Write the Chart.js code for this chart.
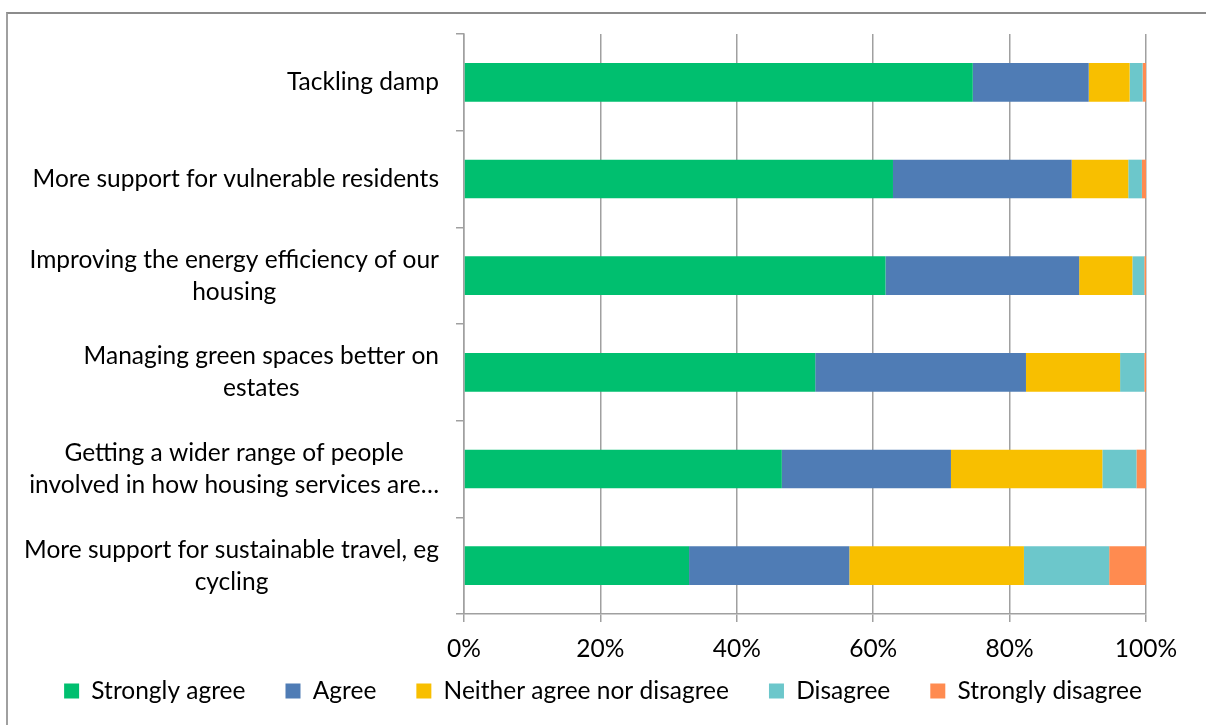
<!DOCTYPE html>
<html>
<head>
<meta charset="utf-8">
<script src="https://cdn.jsdelivr.net/npm/chart.js@4.4.1/dist/chart.umd.min.js"></script>
<style>
  html, body { margin: 0; padding: 0; background: #fff; overflow: hidden; }
  #wrap { position: relative; width: 1206px; height: 725px; }
  #frame { position: absolute; left: 6px; top: 12px; width: 1300px; height: 800px;
           border-top: 2px solid #8c8c8c; border-left: 2px solid #a0a0a0; pointer-events: none; }
</style>
</head>
<body>
<div id="wrap">
  <canvas id="chart" width="1206" height="725"></canvas>
  <div id="frame"></div>
</div>
<script>
// categories (label lines, top to bottom)
const categories = [
    ["Tackling damp"],
    ["More support for vulnerable residents"],
    ["Improving the energy efficiency of our", "housing"],
    ["Managing green spaces better on", "estates"],
    ["Getting a wider range of people", "involved in how housing services are\u2026"],
    ["More support for sustainable travel, eg", "cycling"]
];

// percentages
const stronglyAgree    = [74.6, 62.9, 61.8, 51.5, 46.6, 33.0];
const agree            = [17.0, 26.2, 28.4, 30.9, 24.8, 23.5];
const neither          = [6.0, 8.3, 7.8, 13.8, 22.2, 25.6];
const disagree         = [1.9, 2.0, 1.75, 3.55, 5.0, 12.5];
const stronglyDisagree = [0.5, 0.6, 0.25, 0.25, 1.4, 5.4];

const seriesNames = ["Strongly agree", "Agree", "Neither agree nor disagree", "Disagree", "Strongly disagree"];
const xTicks = [0, 20, 40, 60, 80, 100];

const FONT = "Lato, 'Open Sans', sans-serif";
const FSIZE = 24.5;
const LEGEND_PAD = 40;
const W = 1206, H = 725;
const colors = ["#00bf6f", "#4f7cb5", "#f8bf00", "#6cc7cb", "#ff8b50"];

// draws the category labels, lines centered inside a right-aligned block
const yLabels = {
    id: "yLabels",
    afterDraw(chart) {
        let ctx = chart.ctx;
        let y = chart.scales.y;
        ctx.save();
        ctx.font = FSIZE + "px " + FONT;
        ctx.fillStyle = "#000";
        ctx.textAlign = "center";
        ctx.textBaseline = "middle";
        let right = y.right - 25;
        for (let i = 0; i < categories.length; i++) {
            let lines = categories[i];
            let w = 0;
            for (let l of lines) w = Math.max(w, ctx.measureText(l).width);
            let cx = right - w / 2;
            let cy = y.getPixelForValue(i);
            let lh = 32;
            for (let k = 0; k < lines.length; k++) {
                ctx.fillText(lines[k], cx, cy + (k - (lines.length - 1) / 2) * lh);
            }
        }
        ctx.restore();
    }
};

// legend: one row over the full width, short box for the layout, moved up afterwards
const legendFit = {
    id: "legendFit",
    beforeInit(chart) {
        let lg = chart.legend;
        let orig = lg.fit;
        lg.fit = function() {
            lg.maxWidth = W;
            orig.call(lg);
            lg.height = 56;
        };
    },
    afterLayout(chart) {
        let lg = chart.legend;
        lg.left = 0;
        lg.right = W;
        lg.width = W;
        lg.top = 691 - FSIZE / 2 - LEGEND_PAD;
        lg.bottom = H;
        lg.height = H - lg.top;
    }
};

const data = [stronglyAgree, agree, neither, disagree, stronglyDisagree];
const datasets = seriesNames.map((name, i) => ({
    label: name,
    data: data[i],
    backgroundColor: colors[i],
    borderWidth: 0,
    barPercentage: 0.4,
    categoryPercentage: 1.0
}));

const c = document.getElementById("chart");
new Chart(c, {
    type: "bar",
    data: { labels: categories.map(l => l.join(" ")), datasets: datasets },
    plugins: [yLabels, legendFit],
    options: {
        indexAxis: "y",
        responsive: false,
        animation: false,
        layout: { padding: { top: 34, right: 60, bottom: 0, left: 0 } },
        scales: {
            x: {
                stacked: true,
                min: 0,
                max: 100,
                afterBuildTicks(scale) { scale.ticks = xTicks.map(v => ({ value: v })); },
                afterFit(scale) { scale.height = 55; },
                ticks: {
                    callback: v => v + "%",
                    font: { family: FONT, size: FSIZE },
                    color: "#000",
                    padding: 12,
                    maxRotation: 0
                },
                grid: { color: "#a0a0a0", lineWidth: 1.5, tickLength: 8 },
                border: { color: "#a0a0a0", width: 1.5 }
            },
            y: {
                stacked: true,
                afterFit(scale) { scale.width = 464; },
                ticks: { display: false },
                grid: { offset: true, drawOnChartArea: false, color: "#a0a0a0", lineWidth: 1.5, tickLength: 8 },
                border: { color: "#a0a0a0", width: 1.5 }
            }
        },
        plugins: {
            legend: {
                position: "bottom",
                labels: {
                    font: { family: FONT, size: FSIZE },
                    color: "#000",
                    boxWidth: 15,
                    boxHeight: 15,
                    padding: LEGEND_PAD
                }
            },
            tooltip: { enabled: false }
        }
    }
});
</script>
</body>
</html>
